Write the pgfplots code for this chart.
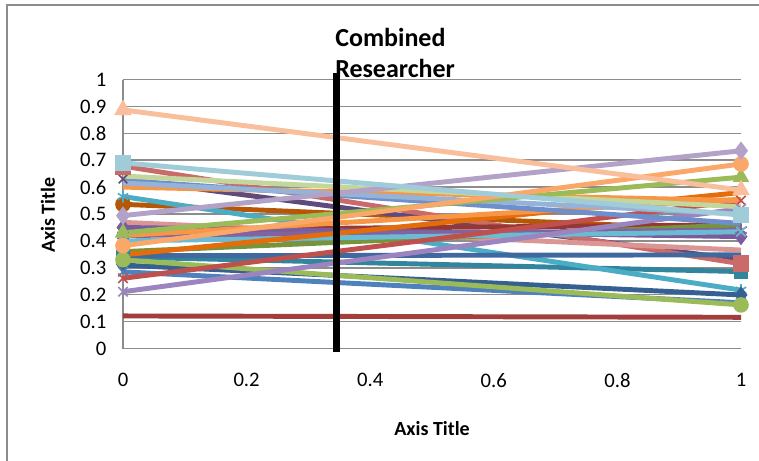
\documentclass[border=0pt]{standalone}
\usepackage{fontspec}
\setmainfont{Carlito}
\usepackage{pgfplots}
\pgfplotsset{compat=1.18}

% Office-style series colours
\definecolor{brick}{HTML}{A23E3B}
\definecolor{rose}{HTML}{CB6B69}
\definecolor{plum}{HTML}{604A7B}
\definecolor{aqua}{HTML}{4BACC6}
\definecolor{navy}{HTML}{376092}
\definecolor{blue}{HTML}{4F81BD}
\definecolor{grn}{HTML}{9BBB59}
\definecolor{teal}{HTML}{31859C}
\definecolor{steel}{HTML}{4069A0}
\definecolor{pinkish}{HTML}{D99694}
\definecolor{brown}{HTML}{B65708}
\definecolor{darkred}{HTML}{953735}
\definecolor{violet}{HTML}{7A5C9E}
\definecolor{olive}{HTML}{77933C}
\definecolor{purple}{HTML}{8064A2}
\definecolor{aqualt}{HTML}{6BBCD3}
\definecolor{orangedk}{HTML}{E46C0A}
\definecolor{red}{HTML}{C0504D}
\definecolor{lavx}{HTML}{9C85BE}
\definecolor{orange}{HTML}{F79646}
\definecolor{blue2}{HTML}{6E8FCB}
\definecolor{peri}{HTML}{95B3D7}
\definecolor{grnlt}{HTML}{C3D69B}
\definecolor{orangelt}{HTML}{F9A86A}
\definecolor{lav}{HTML}{B3A2C7}
\definecolor{cyanlt}{HTML}{A0CCDA}
\definecolor{peach}{HTML}{F9BE9C}
\definecolor{gridgray}{HTML}{8C8C8C}

\pgfplotsset{
  ser/.style={line width=3.7pt, color=#1, mark options={solid, fill=#1, line width=1.2pt}},
}

\begin{document}
\begin{tikzpicture}
\useasboundingbox (0,0) rectangle (569.25pt,-345pt);
% chart frame
\draw[color=gridgray, line width=1.1pt] (5.25pt,-600pt) -- (5.25pt,-3.75pt) -- (700pt,-3.75pt);

\begin{axis}[
  at={(92.25pt,-261.375pt)}, anchor=south west,
  scale only axis, width=463.5pt, height=201.75pt,
  xmin=0, xmax=1, ymin=0, ymax=1,
  clip=false,
  axis x line*=bottom, axis y line*=left,
  axis line style={-, color=gridgray, line width=1.1pt},
  xtick={0,0.2,0.4,0.6,0.8,1},
  ytick={0,0.1,0.2,0.3,0.4,0.5,0.6,0.7,0.8,0.9,1},
  major tick length=0pt,
  ymajorgrids,
  grid style={color=gridgray, line width=1.1pt},
  /pgf/number format/assume math mode=true,
  /pgf/number format/fixed,
  tick label style={font=\fontsize{15.5}{18}\selectfont},
  yticklabel style={xshift=-9pt},
  xticklabel style={yshift=-15pt},
]
\addplot[ser=brick] coordinates {(0,0.121) (1,0.116)};
\addplot[ser=teal, mark=square*, mark size=5pt] coordinates {(0,0.340) (1,0.286)};
\addplot[ser=brown, mark=*, mark size=5.25pt, mark indices={1}] coordinates {(0,0.536) (1,0.440)};
\addplot[ser=plum, mark=x, mark size=4.5pt] coordinates {(0,0.630) (1,0.330)};
\addplot[ser=rose, mark=square*, mark size=5.75pt] coordinates {(0,0.678) (1,0.315)};
\addplot[ser=aqua, mark=asterisk, mark size=4.5pt] coordinates {(0,0.565) (1,0.217)};
\addplot[ser=navy, mark=diamond*, mark size=5.5pt] coordinates {(0,0.310) (1,0.199)};
\addplot[ser=blue, mark=x, mark size=5pt] coordinates {(0,0.285) (1,0.170)};
\addplot[ser=grn, mark=*, mark size=5.25pt] coordinates {(0,0.330) (1,0.162)};
\addplot[ser=steel] coordinates {(0,0.345) (1,0.348)};
\addplot[ser=pinkish] coordinates {(0,0.469) (1,0.366)};
\addplot[ser=darkred] coordinates {(0,0.440) (1,0.460)};
\addplot[ser=violet, mark=diamond*, mark size=5.5pt] coordinates {(0,0.450) (1,0.416)};
\addplot[ser=olive] coordinates {(0,0.360) (1,0.460)};
\addplot[ser=purple, mark=asterisk, mark size=5pt] coordinates {(0,0.420) (1,0.440)};
\addplot[ser=aqualt, mark=x, mark size=5pt] coordinates {(0,0.400) (1,0.434)};
\addplot[ser=orangedk] coordinates {(0,0.348) (1,0.580)};
\addplot[ser=red, mark=x, mark size=5pt] coordinates {(0,0.261) (1,0.550)};
\addplot[ser=lavx, mark=x, mark size=5pt] coordinates {(0,0.211) (1,0.520)};
\addplot[ser=orange] coordinates {(0,0.600) (1,0.550)};
\addplot[ser=orange] coordinates {(0,0.420) (1,0.555)};
\addplot[ser=blue2] coordinates {(0,0.625) (1,0.465)};
\addplot[ser=peri] coordinates {(0,0.615) (1,0.500)};
\addplot[ser=grnlt] coordinates {(0,0.641) (1,0.527)};
\addplot[ser=grn, mark=triangle*, mark size=6pt] coordinates {(0,0.430) (1,0.637)};
\addplot[ser=orangelt, mark=*, mark size=5.25pt] coordinates {(0,0.382) (1,0.686)};
\addplot[ser=lav, mark=diamond*, mark size=6pt] coordinates {(0,0.494) (1,0.735)};
\addplot[ser=cyanlt, mark=square*, mark size=5.25pt] coordinates {(0,0.690) (1,0.496)};
\addplot[ser=peach, mark=triangle*, mark size=6.5pt] coordinates {(0,0.887) (1,0.589)};
% combined researcher divider
\addplot[black, line width=5.25pt] coordinates {(0.346,-0.013) (0.346,1.024)};
\end{axis}

\node[anchor=base west, font=\fontsize{19.5}{22}\selectfont\bfseries, inner sep=0pt] at (251.25pt,-35.25pt) {Combined};
\node[anchor=base west, font=\fontsize{19.5}{22}\selectfont\bfseries, inner sep=0pt] at (251.25pt,-58.5pt) {Researcher};
\node[rotate=90, font=\fontsize{15}{18}\selectfont\bfseries, inner sep=0pt] at (36pt,-161.25pt) {Axis Title};
\node[font=\fontsize{15}{18}\selectfont\bfseries, inner sep=0pt] at (324pt,-321.75pt) {Axis Title};
\end{tikzpicture}
\end{document}
